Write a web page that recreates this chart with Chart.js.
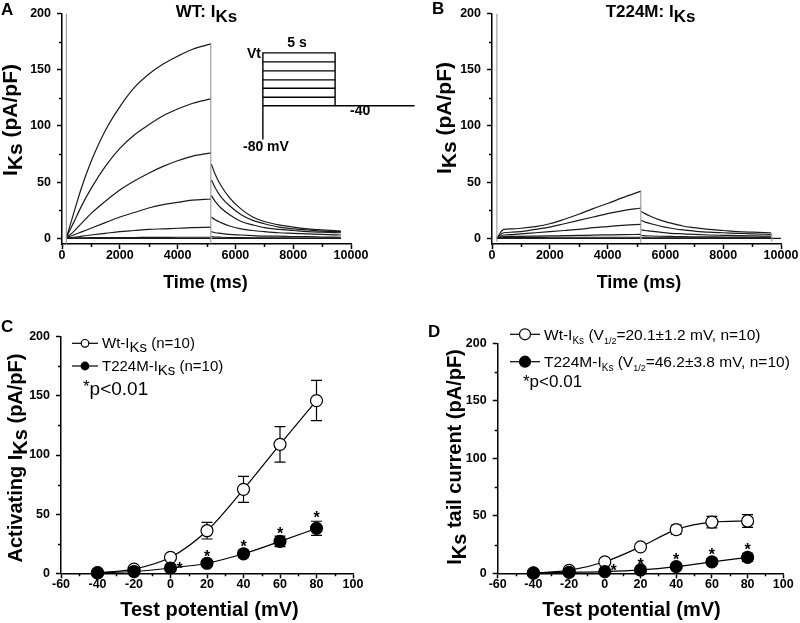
<!DOCTYPE html>
<html>
<head>
<meta charset="utf-8">
<script src="https://cdn.jsdelivr.net/npm/chart.js@4.4.1/dist/chart.umd.min.js"></script>
<style>
  body { margin: 0; background: #fff; }
  #page { position: relative; width: 800px; height: 623px; overflow: hidden; background: #fff; }
  canvas { position: absolute; }
</style>
</head>
<body>
<div id="page">
  <canvas id="chartA" width="430" height="300" style="left:0;top:0"></canvas>
  <canvas id="chartB" width="370" height="300" style="left:430px;top:0"></canvas>
  <canvas id="chartC" width="400" height="323" style="left:0;top:300px"></canvas>
  <canvas id="chartD" width="400" height="323" style="left:400px;top:300px"></canvas>
</div>
<script>
const FONT = "'Liberation Sans', Arial, Helvetica, sans-serif";
const f = (size, bold) => (bold ? 'bold ' : '') + size + 'px ' + FONT;

// ---- panels A / B : current traces (pA/pF) sampled in time (ms) ----
const actTime  = [170, 400, 700, 1000, 1500, 2000, 2500, 3000, 3500, 4000, 4500, 5150];
const tailTime = [5170, 5300, 5500, 5800, 6200, 6600, 7000, 7500, 8000, 8500, 9000, 9650];

// one row per test step (+80 ... -40 mV)
const wtAct = [
  [2, 22, 47, 68, 96, 117, 134, 146, 155, 162, 168, 173],
  [2, 14, 30, 44, 64, 80, 92, 101, 109, 115, 120, 124],
  [1, 6, 14, 22, 33, 43, 51, 58, 64, 69, 73, 76],
  [1, 3, 6, 9, 14, 19, 23, 27, 30, 32, 34, 35],
  [0.5, 1, 2, 3, 4.5, 6, 7, 8, 8.5, 9, 9.5, 10],
  [0.3, 0.4, 0.5, 0.6, 0.7, 0.8, 0.8, 0.9, 0.9, 1, 1, 1],
  [0, 0, 0, 0, 0, 0, 0, 0, 0, 0, 0, 0]
];
const wtTail = [
  [66, 57, 47, 36, 26, 19, 15, 12, 10, 8.5, 7.5, 6.5],
  [52, 45, 37, 29, 21, 16, 13, 10, 8.5, 7.5, 6.5, 6],
  [38, 33, 27, 21, 15, 12, 9.5, 8, 7, 6, 5.5, 5],
  [19, 16.5, 14, 11, 8.5, 7, 6, 5, 4.5, 4, 3.5, 3],
  [6, 5, 4.5, 3.5, 3, 2.5, 2, 2, 1.5, 1.5, 1.2, 1],
  [1.5, 1.2, 1, 0.8, 0.6, 0.5, 0.5, 0.4, 0.3, 0.3, 0.2, 0.2],
  [0, 0, 0, 0, 0, 0, 0, 0, 0, 0, 0, 0]
];
const mutAct = [
  [0, 8, 8.5, 9, 10.5, 13, 17, 21.5, 26.5, 31, 36, 42],
  [0, 5, 5.5, 6, 8, 10, 13, 16, 19, 22, 24.5, 27],
  [0, 3, 3.3, 4, 5, 6, 7, 8, 9.5, 10.5, 11.5, 12.5],
  [0, 1.6, 1.7, 1.8, 2, 2.2, 2.4, 2.6, 2.9, 3.1, 3.3, 3.5],
  [0, 0.8, 0.8, 0.9, 0.9, 1, 1, 1, 1, 1, 1, 1],
  [0, 0, 0, 0, 0, 0, 0, 0, 0, 0, 0, 0]
];
const mutTail = [
  [24, 22, 19.5, 16.5, 13.5, 11, 9.5, 8, 7, 6, 5.5, 5],
  [16, 14.5, 13, 11, 9, 7.5, 6.5, 5.5, 5, 4.5, 4, 3.5],
  [7.5, 7, 6.5, 5.5, 4.5, 4, 3.5, 3, 2.7, 2.4, 2.2, 2],
  [2.5, 2.3, 2.1, 1.9, 1.7, 1.5, 1.4, 1.3, 1.2, 1.1, 1, 1],
  [0.5, 0.5, 0.5, 0.5, 0.5, 0.5, 0.5, 0.5, 0.5, 0.5, 0.5, 0.5],
  [0, 0, 0, 0, 0, 0, 0, 0, 0, 0, 0, 0]
];
// capacitive transients: [time, from, to]
const wtTransients  = [[150, -5, 200], [5150, -5, 173]];
const mutTransients = [[170, -3, 200], [5150, -4, 42], [9680, -3, 5]];
const mutBaselineEnd = 10000;

// voltage protocol inset (drawn in axis units of panel A)
const stepStart = 6950, stepEnd = 9450, holdEnd = 12200;
const stepLevels = [165, 157, 149, 141, 133.5, 125.5];
const tailLevel = 118, holdLevel = 88;

const timeTicks = [0, 2000, 4000, 6000, 8000, 10000];
const timeMinor = [1000, 3000, 5000, 7000, 9000];
const currentTicks = [0, 50, 100, 150, 200];
const currentMinor = [25, 75, 125, 175];

// ---- panels C / D : I-V relations ----
const testV = [-40, -20, 0, 20, 40, 60, 80];
const vTicks = [-60, -40, -20, 0, 20, 40, 60, 80, 100];
const vMinor = [-50, -30, -10, 10, 30, 50, 70, 90];

const wtActMean = [0.5, 3.5, 13.5, 36, 71, 109, 146];
const wtActErr  = [0.5, 1, 2.5, 7, 11, 15, 17];
const mutActMean = [0.3, 1.5, 4.5, 8.5, 16.5, 27, 38];
const mutActErr  = [0.3, 0.5, 1.5, 2, 3, 4.5, 6];
const starCx = [5, 20, 40, 60, 80];
const starCy = [7, 17, 26, 37, 50];

const wtTailMean = [0.3, 2.5, 10, 23, 38, 44.5, 45.5];
const wtTailErr  = [0.2, 1, 2, 2.5, 4, 5, 5.5];
const mutTailMean = [0.2, 0.8, 1.4, 2.9, 5.8, 10, 13.8];
const mutTailErr  = [0.1, 0.3, 0.5, 0.8, 1.2, 2.5, 3.5];
const starDx = [5, 20, 40, 60, 80];
const starDy = [5.8, 11, 15, 19.7, 23.8];

// ---------- helpers ----------
function drawRich(ctx, it) {
  ctx.save();
  ctx.translate(it.x, it.y);
  if (it.rot) ctx.rotate(-Math.PI / 2);
  ctx.fillStyle = '#000';
  ctx.textBaseline = 'alphabetic';
  ctx.textAlign = 'left';
  let w = 0;
  it.parts.forEach(p => { ctx.font = p[1]; w += ctx.measureText(p[0]).width; });
  let cx = it.align === 'center' ? -w / 2 : (it.align === 'right' ? -w : 0);
  it.parts.forEach(p => {
    ctx.font = p[1];
    ctx.fillText(p[0], cx, p[2] || 0);
    cx += ctx.measureText(p[0]).width;
  });
  ctx.restore();
}

const richLabels = {
  id: 'richLabels',
  afterDraw(chart, args, opts) {
    (opts.items || []).forEach(it => drawRich(chart.ctx, it));
  }
};

const minorTicks = {
  id: 'minorTicks',
  afterDraw(chart, args, opts) {
    const { ctx, chartArea: a, scales: { x, y } } = chart;
    ctx.save();
    ctx.strokeStyle = '#000';
    ctx.lineWidth = 1.5;
    ctx.beginPath();
    (opts.x || []).forEach(v => {
      const p = Math.round(x.getPixelForValue(v)) + 0.5;
      ctx.moveTo(p, a.bottom); ctx.lineTo(p, a.bottom + 3);
    });
    (opts.y || []).forEach(v => {
      const p = Math.round(y.getPixelForValue(v)) + 0.5;
      ctx.moveTo(a.left, p); ctx.lineTo(a.left - 3, p);
    });
    ctx.stroke();
    ctx.restore();
  }
};

const errorBars = {
  id: 'errorBars',
  beforeDatasetsDraw(chart) {
    const { ctx, scales: { x, y } } = chart;
    ctx.save();
    ctx.strokeStyle = '#000';
    ctx.lineWidth = 1.2;
    chart.data.datasets.forEach(ds => {
      if (!ds.errors) return;
      ds.data.forEach((p, i) => {
        const e = ds.errors[i];
        const cx = x.getPixelForValue(p.x);
        const top = y.getPixelForValue(p.y + e), bot = y.getPixelForValue(p.y - e);
        ctx.beginPath();
        ctx.moveTo(cx, top); ctx.lineTo(cx, bot);
        ctx.moveTo(cx - 5.5, top); ctx.lineTo(cx + 5.5, top);
        ctx.moveTo(cx - 5.5, bot); ctx.lineTo(cx + 5.5, bot);
        ctx.stroke();
      });
    });
    ctx.restore();
  }
};

const stars = {
  id: 'stars',
  afterDatasetsDraw(chart, args, opts) {
    if (!opts.xs) return;
    const { ctx, scales: { x, y } } = chart;
    ctx.save();
    ctx.fillStyle = '#000';
    ctx.font = f(16, true);
    ctx.textAlign = 'center';
    ctx.textBaseline = 'alphabetic';
    opts.xs.forEach((v, i) => {
      ctx.fillText('*', x.getPixelForValue(v), y.getPixelForValue(opts.ys[i]) + 9);
    });
    ctx.restore();
  }
};

const seriesLegend = {
  id: 'seriesLegend',
  afterDraw(chart, args, opts) {
    if (!opts.rows) return;
    const ctx = chart.ctx;
    opts.rows.forEach(r => {
      ctx.save();
      ctx.strokeStyle = '#000';
      ctx.lineWidth = 1.2;
      ctx.beginPath();
      ctx.moveTo(opts.x0, r.y); ctx.lineTo(opts.x1, r.y);
      ctx.stroke();
      ctx.beginPath();
      ctx.arc(opts.mx, r.y, opts.r, 0, Math.PI * 2);
      ctx.fillStyle = r.filled ? '#000' : '#fff';
      ctx.fill();
      ctx.stroke();
      ctx.restore();
      drawRich(ctx, { x: opts.tx, y: r.y + opts.dy, parts: r.parts });
    });
  }
};

const protocolInset = {
  id: 'protocolInset',
  afterDraw(chart) {
    const { ctx, scales: { x, y } } = chart;
    const px = v => x.getPixelForValue(v), py = v => y.getPixelForValue(v);
    ctx.save();
    ctx.strokeStyle = '#000';
    ctx.lineWidth = 1.4;
    ctx.beginPath();
    ctx.moveTo(px(stepStart), py(holdLevel));
    ctx.lineTo(px(stepStart), py(stepLevels[0]));
    ctx.lineTo(px(stepEnd), py(stepLevels[0]));
    ctx.lineTo(px(stepEnd), py(tailLevel));
    stepLevels.slice(1).forEach(v => { ctx.moveTo(px(stepStart), py(v)); ctx.lineTo(px(stepEnd), py(v)); });
    ctx.moveTo(px(stepStart), py(tailLevel));
    ctx.lineTo(px(holdEnd), py(tailLevel));
    ctx.stroke();
    ctx.restore();
  }
};

function axis(min, max, major, isX, size, pad) {
  return {
    type: 'linear', min, max,
    afterBuildTicks: s => { s.ticks = major.map(v => ({ value: v })); },
    afterFit: s => { if (isX) s.height = size; else s.width = size; },
    ticks: {
      color: '#000', font: { family: FONT, size: 12.5, weight: 'bold' },
      padding: pad, autoSkip: false, maxRotation: 0, callback: v => String(v)
    },
    grid: { drawOnChartArea: false, drawTicks: true, tickLength: 5, tickColor: '#000', tickWidth: 1.5 },
    border: { color: '#000', width: 1.5 }
  };
}

function traceSets(act, tail, transients, baselineEnd) {
  const sets = [];
  transients.forEach(tr => sets.push({
    data: [{ x: tr[0], y: tr[1] }, { x: tr[0], y: tr[2] }],
    borderColor: '#8a8a8a', borderWidth: 1, pointRadius: 0
  }));
  act.forEach((row, k) => {
    const pts = actTime.map((t, i) => ({ x: t, y: row[i] }));
    pts.push({ x: 5160, y: null });
    tailTime.forEach((t, i) => pts.push({ x: t, y: tail[k][i] }));
    if (baselineEnd && k === act.length - 1) pts.push({ x: baselineEnd, y: 0 });
    sets.push({
      data: pts, borderColor: '#1a1a1a', borderWidth: 1.2, pointRadius: 0,
      cubicInterpolationMode: 'monotone', spanGaps: false
    });
  });
  return sets;
}

function traceChart(id, sets, padRight, items, extra) {
  return new Chart(document.getElementById(id), {
    type: 'line',
    data: { datasets: sets },
    options: {
      responsive: false, animation: false, events: [],
      layout: { autoPadding: false, padding: { left: 0, top: 11, right: padRight, bottom: 0 } },
      scales: {
        x: axis(0, 10000, timeTicks, true, 56, -1),
        y: axis(-5, 200, currentTicks, false, 62, 6)
      },
      plugins: {
        legend: { display: false }, tooltip: { enabled: false },
        minorTicks: { x: timeMinor, y: currentMinor },
        richLabels: { items }
      }
    },
    plugins: [minorTicks, richLabels].concat(extra || [])
  });
}

// ---- A ----
traceChart('chartA', traceSets(wtAct, wtTail, wtTransients), 79, [
  { x: 1, y: 15, parts: [['A', f(17, true)]] },
  { x: 206.5, y: 16.5, align: 'center', parts: [['WT: I', f(17, true)], ['Ks', f(17, true), 5]] },
  { x: 205.5, y: 288, align: 'center', parts: [['Time (ms)', f(18, true)]] },
  { x: 17, y: 120, rot: true, align: 'center', parts: [['I', f(21, true)], ['Ks', f(21, true), 5], [' (pA/pF)', f(21, true)]] },
  { x: 261, y: 58, align: 'right', parts: [['Vt', f(14, true)]] },
  { x: 297, y: 47, align: 'center', parts: [['5 s', f(14, true)]] },
  { x: 350, y: 115, parts: [['-40', f(14, true)]] },
  { x: 243, y: 151, parts: [['-80 mV', f(14, true)]] }
], [protocolInset]);

// ---- B ----
traceChart('chartB', traceSets(mutAct, mutTail, mutTransients, mutBaselineEnd), 19, [
  { x: 2, y: 14, parts: [['B', f(17, true)]] },
  { x: 220.5, y: 16.5, align: 'center', parts: [['T224M: I', f(17, true)], ['Ks', f(17, true), 5]] },
  { x: 209, y: 288, align: 'center', parts: [['Time (ms)', f(18, true)]] },
  { x: 21, y: 118, rot: true, align: 'center', parts: [['I', f(21, true)], ['Ks', f(21, true), 5], [' (pA/pF)', f(21, true)]] }
]);

// ---- C / D ----
function ivSets(wm, we, mm, me) {
  const base = { borderColor: '#000', borderWidth: 1.2, pointRadius: 6, pointBorderColor: '#000',
    pointBorderWidth: 1.2, cubicInterpolationMode: 'monotone', clip: false };
  return [
    Object.assign({}, base, { data: testV.map((v, i) => ({ x: v, y: mm[i] })), errors: me, pointBackgroundColor: '#000', order: 0 }),
    Object.assign({}, base, { data: testV.map((v, i) => ({ x: v, y: wm[i] })), errors: we, pointBackgroundColor: '#fff', order: 1 })
  ];
}

function ivChart(id, sets, leftW, top, padRight, starsOpt, legendOpt, items) {
  return new Chart(document.getElementById(id), {
    type: 'line',
    data: { datasets: sets },
    options: {
      responsive: false, animation: false, events: [],
      layout: { autoPadding: false, padding: { left: 0, top, right: padRight, bottom: 0 } },
      scales: {
        x: axis(-60, 100, vTicks, true, 49.7, -1),
        y: axis(0, 200, currentTicks, false, leftW, 6)
      },
      plugins: {
        legend: { display: false }, tooltip: { enabled: false },
        minorTicks: { x: vMinor, y: currentMinor },
        stars: starsOpt, seriesLegend: legendOpt, richLabels: { items }
      }
    },
    plugins: [errorBars, minorTicks, stars, seriesLegend, richLabels]
  });
}

ivChart('chartC', ivSets(wtActMean, wtActErr, mutActMean, mutActErr), 61, 36.7, 47,
  { xs: starCx, ys: starCy },
  { x0: 72, x1: 98, mx: 85, r: 3.8, tx: 102, dy: 5, rows: [
    { y: 43.3, filled: false, parts: [['Wt-I', f(15)], ['Ks', f(15), 4], [' (n=10)', f(15)]] },
    { y: 66, filled: true, parts: [['T224M-I', f(15)], ['Ks', f(15), 4], [' (n=10)', f(15)]] }
  ] },
  [
    { x: 1, y: 31.5, parts: [['C', f(17, true)]] },
    { x: 209.5, y: 316, align: 'center', parts: [['Test potential (mV)', f(20, true)]] },
    { x: 22, y: 158, rot: true, align: 'center', parts: [['Activating I', f(20, true)], ['Ks', f(20, true), 5], [' (pA/pF)', f(20, true)]] },
    { x: 83, y: 95, parts: [['*', f(17), -3], ['p<0.01', f(19)]] }
  ]);

ivChart('chartD', ivSets(wtTailMean, wtTailErr, mutTailMean, mutTailErr), 97.7, 43.3, 16.7,
  { xs: starDx, ys: starDy },
  { x0: 110, x1: 140, mx: 125, r: 5.5, tx: 144, dy: 5.5, rows: [
    { y: 34.3, filled: false, parts: [['Wt-I', f(15.5)], ['Ks', f(10), 4], [' (V', f(15.5)], ['1/2', f(9), 4], ['=20.1\u00b11.2 mV, n=10)', f(15.5)]] },
    { y: 61.7, filled: true, parts: [['T224M-I', f(15.5)], ['Ks', f(10), 4], [' (V', f(15.5)], ['1/2', f(9), 4], ['=46.2\u00b13.8 mV, n=10)', f(15.5)]] }
  ] },
  [
    { x: 28, y: 36.5, parts: [['D', f(17, true)]] },
    { x: 231.5, y: 316, align: 'center', parts: [['Test potential (mV)', f(20, true)]] },
    { x: 61, y: 157, rot: true, align: 'center', parts: [['I', f(20, true)], ['Ks', f(20, true), 5], [' tail current (pA/pF)', f(20, true)]] },
    { x: 123, y: 87, parts: [['*p<0.01', f(17)]] }
  ]);
</script>
</body>
</html>
